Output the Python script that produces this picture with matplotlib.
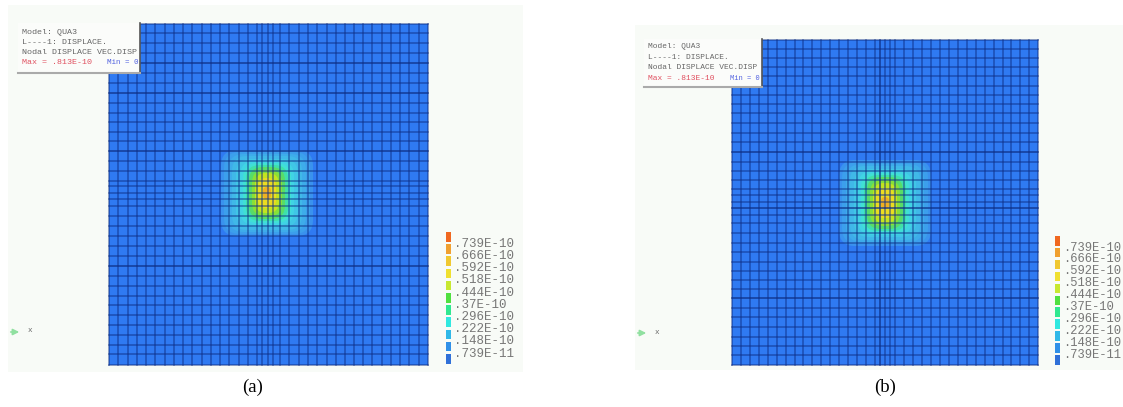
import matplotlib
matplotlib.use('Agg')
import matplotlib.pyplot as plt
from matplotlib.patches import FancyBboxPatch, Rectangle

# mesh lines in pixels
xa = [109, 118, 128, 137, 146, 155, 165, 174, 183, 192, 202, 211, 220, 229, 239, 248, 257,
      262, 268, 273, 280, 289, 299, 308, 317, 327, 336, 345, 354, 363, 372, 382, 391, 400, 409, 419, 428]
ya = [24, 33, 43, 53, 63, 73, 83, 93, 103, 113, 122, 132, 141, 151, 161, 171, 181, 186, 193, 199, 206,
      216, 226, 236, 246, 256, 266, 276, 286, 296, 305, 315, 325, 335, 345, 354, 365]
xb = [732, 741, 750, 759, 768, 777, 786, 795, 803, 812, 821, 830, 839, 848, 857, 866, 875,
      880, 885, 890, 895, 904, 913, 922, 931, 940, 949, 958, 967, 976, 985, 994, 1003, 1011, 1020, 1029, 1038]
yb = [40, 49, 58, 67, 76, 86, 95, 104, 113, 123, 133, 142, 152, 162, 171, 180, 189, 195, 202, 208, 215,
      223, 233, 243, 252, 262, 271, 280, 289, 298, 308, 317, 327, 337, 346, 355, 365]
# lines that came out darker in the scan
dark_a = [63, 151, 266, 93]
dark_b = [152, 208, 298, 880]

# contour bands, outermost first: half width, half height, corner radius, colour
band_w = [46, 43, 39, 35, 31, 27, 24, 21, 18, 15, 12, 9, 4]
band_h = [43, 41, 39, 37, 34, 32, 30, 28, 26, 23, 20, 15, 6]
band_r = [16, 16, 16, 15, 15, 15, 15, 14, 14, 13, 11, 8, 4]
band_c = ['#3a92ee', '#3c9fec', '#3eacea', '#40b8e8', '#40c6e6', '#40d4e4', '#40e0d4',
          '#40e0a8', '#58dc68', '#88e038', '#c4e420', '#ecdc20', '#f0b020']

legend_labels = ['.739E-10', '.666E-10', '.592E-10', '.518E-10', '.444E-10',
                 '.37E-10', '.296E-10', '.222E-10', '.148E-10', '.739E-11']
legend_c = ['#f06820', '#f0a030', '#f0c830', '#f0e030', '#c8e830', '#50e040',
            '#30e890', '#30e8e0', '#30b8e8', '#3090e8', '#3070d8']

info_lines = ['Model: QUA3', 'L----1: DISPLACE.', 'Nodal DISPLACE VEC.DISP']

fig = plt.figure(figsize=(11.23, 4.07), dpi=100)
ax = fig.add_axes([0, 0, 1, 1])
ax.set_xlim(0, 1123)
ax.set_ylim(407, 0)
ax.axis('off')


def panel(xs, ys, centre, bg, box, text_x, text_y, fs, min_x, leg_x, leg_y0, leg_dy, leg_fs, triad, cap, cap_label, dark):
    ax.add_patch(Rectangle((bg[0], bg[1]), bg[2] - bg[0], bg[3] - bg[1], fc='#f8fbf7', ec='none', zorder=0))
    ax.add_patch(Rectangle((xs[0], ys[0]), xs[-1] - xs[0], ys[-1] - ys[0], fc='#2f7af2', ec='none', zorder=1))
    for w, h, r, c in zip(band_w, band_h, band_r, band_c):
        ax.add_patch(FancyBboxPatch((centre[0] - w, centre[1] - h), 2 * w, 2 * h,
                                    boxstyle='round,pad=0,rounding_size=%d' % r,
                                    fc=c, ec='none', zorder=2))
    for x in xs:
        a = 0.85 if x in dark else 0.6
        ax.plot([x, x], [ys[0], ys[-1]], color='#0e2f86', lw=1.1, alpha=a, zorder=3)
    for y in ys:
        a = 0.85 if y in dark else 0.6
        ax.plot([xs[0], xs[-1]], [y, y], color='#0e2f86', lw=1.1, alpha=a, zorder=3)

    # info box sitting on the top left corner of the mesh
    ax.add_patch(Rectangle((box[0], box[1]), box[2] - box[0], box[3] - box[1], fc='#fbfcfa', ec='none', zorder=4))
    ax.plot([box[2], box[2]], [box[1], box[3]], color='#555555', lw=1.2, zorder=5)
    ax.plot([box[0], box[2]], [box[3], box[3]], color='#aaaaaa', lw=1.5, zorder=5)
    for i, line in enumerate(info_lines):
        ax.text(text_x, text_y + i * 10.2, line, family='Liberation Mono', fontsize=fs,
                color='#666666', va='center', zorder=6)
    ax.text(text_x, text_y + 31, 'Max = .813E-10', family='Liberation Mono', fontsize=fs,
            color='#e05060', va='center', zorder=6)
    ax.text(min_x, text_y + 31, 'Min = 0', family='Liberation Mono', fontsize=fs - 0.6,
            color='#5060e0', va='center', zorder=6)

    # legend
    for i, c in enumerate(legend_c):
        ax.add_patch(Rectangle((leg_x, leg_y0 + i * leg_dy - 5), 4.5, 9.5, fc=c, ec='none', zorder=2))
    for i, lab in enumerate(legend_labels):
        ax.text(leg_x + 8, leg_y0 + (i + 0.55) * leg_dy, lab, family='Liberation Mono', fontsize=leg_fs,
                color='#777777', va='center', zorder=2)

    # axis triad
    ax.annotate('', xy=(triad[0] + 14, triad[1]), xytext=(triad[0], triad[1]),
                arrowprops=dict(arrowstyle='-|>', color='#90e0a0', lw=1.2, mutation_scale=9))
    ax.text(triad[0] + 20, triad[1] - 1, 'x', family='Liberation Mono', fontsize=5.5,
            color='#666666', va='center')
    ax.text(cap, 387, cap_label, family='Liberation Serif', fontsize=13.5,
            color='black', ha='center', va='center')


panel(xa, ya, (267, 193), (8, 5, 523, 372), (18, 23, 140, 73), 22, 32, 6.0, 107,
      446, 237, 12.2, 9.0, (8, 332), 253, '(a)', dark_a)
panel(xb, yb, (885, 203), (635, 25, 1123, 370), (644, 39, 762, 87), 648, 47, 5.7, 730,
      1055, 241, 11.9, 8.7, (635, 333), 885, '(b)', dark_b)

fig.savefig('out.png', dpi=100)
